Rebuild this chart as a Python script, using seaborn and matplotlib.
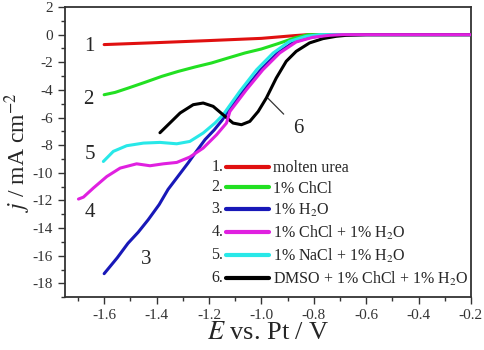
import matplotlib
matplotlib.use("Agg")
import matplotlib.pyplot as plt
import seaborn as sns
from matplotlib.ticker import MultipleLocator

# polarisation curves: potential E (V vs Pt) and current density j (mA cm-2)
e_urea = [-1.6, -1.4, -1.2, -1.0, -0.873, -0.822, -0.6, -0.4, -0.2]
j_urea = [-0.72, -0.58, -0.43, -0.27, -0.07, 0.0, 0.0, 0.0, 0.0]

e_chcl = [-1.6, -1.558, -1.507, -1.444, -1.38, -1.317, -1.253, -1.19, -1.127, -1.063,
          -1.0, -0.936, -0.873, -0.822, -0.6, -0.4, -0.2]
j_chcl = [-4.35, -4.18, -3.86, -3.45, -3.02, -2.66, -2.34, -2.05, -1.69, -1.33,
          -1.04, -0.65, -0.24, 0.0, 0.0, 0.0, 0.0]

e_h2o = [-1.6, -1.55, -1.509, -1.47, -1.432, -1.39, -1.356, -1.32, -1.28, -1.25, -1.215,
         -1.18, -1.15, -1.128, -1.065, -1.002, -0.938, -0.875, -0.811, -0.75, -0.7,
         -0.4, -0.2]
j_h2o = [-17.3, -16.15, -15.1, -14.3, -13.4, -12.3, -11.2, -10.3, -9.3, -8.5, -7.6,
         -6.9, -6.2, -5.56, -3.99, -2.54, -1.33, -0.53, -0.19, -0.05, 0.0,
         0.0, 0.0]

e_chcl_h2o = [-1.698, -1.679, -1.641, -1.59, -1.539, -1.476, -1.425, -1.374, -1.323, -1.273,
              -1.222, -1.171, -1.133, -1.12, -1.057, -0.994, -0.93, -0.867, -0.803, -0.74,
              -0.69, -0.4, -0.2]
j_chcl_h2o = [-11.9, -11.76, -11.1, -10.27, -9.66, -9.35, -9.49, -9.35, -9.25, -8.86,
              -8.21, -7.25, -6.4, -5.56, -3.99, -2.54, -1.33, -0.53, -0.19, -0.05,
              0.0, 0.0, 0.0]

e_nacl_h2o = [-1.603, -1.565, -1.514, -1.45, -1.387, -1.323, -1.273, -1.222, -1.177, -1.146,
              -1.082, -1.018, -0.955, -0.892, -0.828, -0.777, -0.4, -0.2]
j_nacl_h2o = [-9.18, -8.45, -8.04, -7.85, -7.8, -7.9, -7.73, -7.12, -6.4, -5.8,
              -4.1, -2.54, -1.33, -0.48, -0.12, 0.0, 0.0, 0.0]

e_dmso = [-1.387, -1.31, -1.26, -1.222, -1.184, -1.146, -1.108, -1.076, -1.044, -1.012,
          -0.981, -0.943, -0.905, -0.867, -0.816, -0.765, -0.714, -0.676, -0.6, -0.4, -0.2]
j_dmso = [-7.1, -5.67, -5.07, -4.95, -5.19, -5.8, -6.4, -6.52, -6.28, -5.56,
          -4.59, -3.14, -1.93, -1.21, -0.6, -0.29, -0.12, -0.05, 0.0, 0.0, 0.0]

labels = ["molten urea", "1% ChCl", "1% H$_2$O", "1% ChCl + 1% H$_2$O",
          "1% NaCl + 1% H$_2$O", "DMSO + 1% ChCl + 1% H$_2$O"]
colors = ["#e01010", "#22e022", "#1818b8", "#e020e0", "#28e8e8", "#000000"]
series = [(e_urea, j_urea), (e_chcl, j_chcl), (e_h2o, j_h2o),
          (e_chcl_h2o, j_chcl_h2o), (e_nacl_h2o, j_nacl_h2o), (e_dmso, j_dmso)]
zorders = [3, 3, 3, 6, 4, 5]

sns.set_style("ticks")
plt.rcParams["font.family"] = ["Liberation Serif", "DejaVu Serif"]
plt.rcParams["mathtext.fontset"] = "stix"

fig = plt.figure(figsize=(4.84, 3.5), dpi=100)
ax = fig.add_axes([0.134, 0.151, 0.839, 0.829])

for (e, j), lab, c, z in zip(series, labels, colors, zorders):
    sns.lineplot(x=e, y=j, ax=ax, color=c, lw=2.2, label=lab, zorder=z, sort=False)

ax.set_xlim(-1.75, -0.2)
ax.set_ylim(-19, 2)
ax.xaxis.set_major_locator(MultipleLocator(0.2))
ax.xaxis.set_minor_locator(MultipleLocator(0.1))
ax.yaxis.set_major_locator(MultipleLocator(2))
ax.yaxis.set_minor_locator(MultipleLocator(1))
ax.xaxis.set_major_formatter(plt.FuncFormatter(lambda v, p: f"{v:.1f}"))
ax.yaxis.set_major_formatter(plt.FuncFormatter(lambda v, p: f"{v:.0f}"))
ax.tick_params(which="major", direction="out", length=5, width=1, labelsize=11, colors="#333333")
ax.tick_params(which="minor", direction="out", length=3, width=1, colors="#333333")
for s in ax.spines.values():
    s.set_linewidth(1.3)
    s.set_color("#333333")

ax.set_xlabel("$E$ vs. Pt / V", fontsize=19, labelpad=0)
ax.set_ylabel("$j$ / mA cm$^{-2}$", fontsize=17)
ax.yaxis.set_label_coords(-0.079, 0.5)

# curve numbers
txt = dict(fontsize=15, ha="center", va="center")
ax.text(-1.655, -0.85, "1", **txt)
ax.text(-1.66, -4.7, "2", **txt)
ax.text(-1.655, -8.7, "5", **txt)
ax.text(-1.655, -12.9, "4", **txt)
ax.text(-1.44, -16.3, "3", **txt)
ax.annotate("6", xy=(-0.975, -4.6), xytext=(-0.86, -6.8), fontsize=15, ha="center", va="center",
            arrowprops=dict(arrowstyle="-", color="#333333", lw=0.9, shrinkA=6, shrinkB=0))

leg = ax.legend(loc="lower right", bbox_to_anchor=(1.017, 0.0), frameon=False, fontsize=11.5,
                handlelength=2.7, handletextpad=0.2, labelspacing=0.3, borderaxespad=0.2)
for ln in leg.get_lines():
    ln.set_linewidth(3)

# numbers in front of the legend handles
fig.canvas.draw()
inv = fig.transFigure.inverted()
for i, ln in enumerate(leg.get_lines()):
    bb = ln.get_window_extent()
    x, y = inv.transform((bb.x0 - 3, (bb.y0 + bb.y1) / 2))
    fig.text(x, y, f"{i + 1}.", fontsize=11.5, ha="right", va="center")

fig.savefig("out.png", dpi=100)
